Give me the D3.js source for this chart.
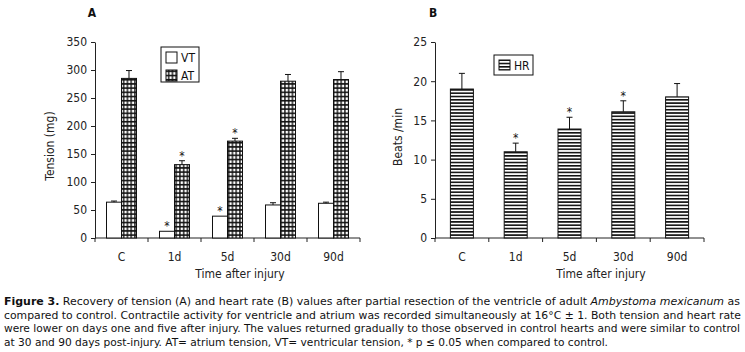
<!DOCTYPE html>
<html><head><meta charset="utf-8">
<script src="https://cdn.jsdelivr.net/npm/d3@7"></script>
<style>
body{margin:0;background:#fff}
svg text{font-family:"Liberation Sans Narrow","DejaVu Sans Condensed","Arial Narrow",sans-serif;font-stretch:condensed}
.cap text{font-family:"DejaVu Sans Condensed","DejaVu Sans",Verdana,sans-serif;font-stretch:condensed}
</style></head>
<body><svg id="c" width="745" height="352"></svg>
<script>
const categories = ["C","1d","5d","30d","90d"];
const vtValues = [64, 12, 39, 59, 62];
const vtErrors = [66, 12, 39, 63, 64];
const atValues = [285, 131, 173, 280, 283];
const atErrors = [299, 138, 178, 292, 297];
const vtSig = [false, true, true, false, false];
const atSig = [false, true, true, false, false];
const hrValues = [19, 11, 13.9, 16.1, 18];
const hrErrors = [21, 12.1, 15.4, 17.5, 19.7];
const hrSig = [false, true, true, true, false];
const tensionTicks = [0,50,100,150,200,250,300,350];
const beatTicks = [0,5,10,15,20,25];
const captionLines = [
 [{t:"Figure 3.",b:1},{t:" Recovery of tension (A) and heart rate (B) values after partial resection of the ventricle of adult "},{t:"Ambystoma mexicanum",i:1},{t:" as"}],
 [{t:"compared to control. Contractile activity for ventricle and atrium was recorded simultaneously at 16°C ± 1. Both tension and heart rate"}],
 [{t:"were lower on days one and five after injury. The values returned gradually to those observed in control hearts and were similar to control"}],
 [{t:"at 30 and 90 days post-injury. AT= atrium tension, VT= ventricular tension, * p ≤ 0.05 when compared to control."}]
];
const captionWidths = [736, 737, 736, 604];

const svg = d3.select("#c");
const defs = svg.append("defs");
const pg = defs.append("pattern").attr("id","grid").attr("patternUnits","userSpaceOnUse")
  .attr("width",3.75).attr("height",4.2);
pg.append("rect").attr("width",3.75).attr("height",4.2).attr("fill","#111");
pg.append("rect").attr("x",0.6).attr("y",0.7).attr("width",2.4).attr("height",2.6).attr("fill","#fff");
const ph = defs.append("pattern").attr("id","hstripe").attr("patternUnits","userSpaceOnUse")
  .attr("width",4).attr("height",3.3);
ph.append("rect").attr("width",4).attr("height",3.3).attr("fill","#fff");
ph.append("rect").attr("y",0).attr("width",4).attr("height",1.6).attr("fill","#111");

const fs = 12;
function axisStyle(g){
  g.selectAll("path,line").attr("stroke","#222").attr("stroke-width",1);
  g.selectAll("text").attr("font-size",fs).attr("fill","#222");
}

// ---------- Panel A ----------
const yA = d3.scaleLinear().domain([0,350]).range([238,42]);
const xA = d3.scaleBand().domain(categories).range([95,360]).padding(0);
const xSub = d3.scaleBand().domain(["VT","AT"]).range([0,xA.bandwidth()]).paddingOuter(0.767).paddingInner(0);
const gA = svg.append("g");
gA.append("g").attr("transform","translate(95,0)")
  .call(d3.axisLeft(yA).tickValues(tensionTicks).tickSize(4).tickPadding(4).tickSizeOuter(0)).call(axisStyle);
const gxA = gA.append("g");
gxA.append("line").attr("x1",95).attr("x2",360).attr("y1",238).attr("y2",238).attr("stroke","#222");
const edgesA = categories.map(c=>xA(c)).concat([xA.range()[1]]);
gxA.selectAll("line.t").data(edgesA).join("line").attr("x1",d=>d).attr("x2",d=>d)
  .attr("y1",238).attr("y2",242).attr("stroke","#222");
gxA.selectAll("text").data(categories).join("text")
  .attr("x",d=>xA(d)+xA.bandwidth()/2).attr("y",261).attr("text-anchor","middle")
  .attr("font-size",fs).attr("fill","#222").text(d=>d);

function drawBars(g, x, sub, key, vals, errs, sig, fill, y, bw){
  const data = categories.map((c,i)=>({c,v:vals[i],e:errs[i],s:sig[i]}));
  const bx = d=> x(d.c) + (sub ? sub(key) : (x.bandwidth()-bw)/2);
  const w = sub ? sub.bandwidth() : bw;
  g.selectAll(null).data(data).join("rect")
    .attr("x",bx).attr("y",d=>y(d.v)).attr("width",w).attr("height",d=>y(0)-y(d.v))
    .attr("fill",fill).attr("stroke","#111").attr("stroke-width",1);
  const eb = data.filter(d=>d.e>d.v);
  g.selectAll(null).data(eb).join("line")
    .attr("x1",d=>bx(d)+w/2).attr("x2",d=>bx(d)+w/2).attr("y1",d=>y(d.v)).attr("y2",d=>y(d.e))
    .attr("stroke","#111");
  g.selectAll(null).data(eb).join("line")
    .attr("x1",d=>bx(d)+w/2-3).attr("x2",d=>bx(d)+w/2+3).attr("y1",d=>y(d.e)).attr("y2",d=>y(d.e))
    .attr("stroke","#111");
  g.selectAll(null).data(data.filter(d=>d.s)).join("text")
    .attr("x",d=>bx(d)+w/2).attr("y",d=>y(Math.max(d.v,d.e))-1).attr("text-anchor","middle")
    .attr("font-size",12).attr("fill","#111").text("*");
}
drawBars(gA, xA, xSub, "VT", vtValues, vtErrors, vtSig, "#fff", yA);
drawBars(gA, xA, xSub, "AT", atValues, atErrors, atSig, "url(#grid)", yA);

gA.append("rect").attr("x",161).attr("y",47).attr("width",38).attr("height",35).attr("fill","#fff").attr("stroke","#111");
gA.append("rect").attr("x",166).attr("y",52).attr("width",11).attr("height",11).attr("fill","#fff").attr("stroke","#111");
gA.append("rect").attr("x",166).attr("y",70).attr("width",11).attr("height",11).attr("fill","url(#grid)").attr("stroke","#111");
gA.append("text").attr("x",181).attr("y",62).attr("font-size",fs).attr("fill","#111").text("VT");
gA.append("text").attr("x",181).attr("y",80).attr("font-size",fs).attr("fill","#111").text("AT");
gA.append("text").attr("x",92).attr("y",17).attr("text-anchor","middle").attr("font-size",12).attr("font-weight","bold").attr("fill","#111").text("A");
gA.append("text").attr("transform","translate(54,146) rotate(-90)").attr("text-anchor","middle").attr("font-size",fs).attr("fill","#222").text("Tension (mg)");
gA.append("text").attr("x",240).attr("y",278).attr("text-anchor","middle").attr("font-size",fs).attr("fill","#222").text("Time after injury");

// ---------- Panel B ----------
const yB = d3.scaleLinear().domain([0,25]).range([238,42]);
const xB = d3.scaleBand().domain(categories).range([435,704]).padding(0);
const gB = svg.append("g");
gB.append("g").attr("transform","translate(435,0)")
  .call(d3.axisLeft(yB).tickValues(beatTicks).tickSize(4).tickPadding(4).tickSizeOuter(0)).call(axisStyle);
const gxB = gB.append("g");
gxB.append("line").attr("x1",435).attr("x2",704).attr("y1",238).attr("y2",238).attr("stroke","#222");
const edgesB = categories.map(c=>xB(c)).concat([xB.range()[1]]);
gxB.selectAll("line.t").data(edgesB).join("line").attr("x1",d=>d).attr("x2",d=>d)
  .attr("y1",238).attr("y2",242).attr("stroke","#222");
gxB.selectAll("text").data(categories).join("text")
  .attr("x",d=>xB(d)+xB.bandwidth()/2).attr("y",261).attr("text-anchor","middle")
  .attr("font-size",fs).attr("fill","#222").text(d=>d);
drawBars(gB, xB, null, "HR", hrValues, hrErrors, hrSig, "url(#hstripe)", yB, 23);
gB.append("rect").attr("x",494).attr("y",55).attr("width",39).attr("height",20).attr("fill","#fff").attr("stroke","#111");
gB.append("rect").attr("x",499).attr("y",60).attr("width",11).attr("height",10).attr("fill","url(#hstripe)").attr("stroke","#111");
gB.append("text").attr("x",514).attr("y",70).attr("font-size",fs).attr("fill","#111").text("HR");
gB.append("text").attr("x",433).attr("y",17).attr("text-anchor","middle").attr("font-size",12).attr("font-weight","bold").attr("fill","#111").text("B");
gB.append("text").attr("transform","translate(402,137) rotate(-90)").attr("text-anchor","middle").attr("font-size",fs).attr("fill","#222").text("Beats /min");
gB.append("text").attr("x",601).attr("y",278).attr("text-anchor","middle").attr("font-size",fs).attr("fill","#222").text("Time after injury");

// ---------- caption ----------
const cap = svg.append("g").attr("class","cap");
captionLines.forEach((parts,i)=>{
  const t = cap.append("text").attr("x",4).attr("y",305+i*13.7).attr("font-size",11).attr("fill","#111")
    .attr("textLength",captionWidths[i]).attr("lengthAdjust","spacingAndGlyphs");
  parts.forEach(p=>{
    const ts = t.append("tspan").text(p.t);
    if(p.b) ts.attr("font-weight","bold");
    if(p.i) ts.attr("font-style","italic");
  });
});
</script></body></html>
